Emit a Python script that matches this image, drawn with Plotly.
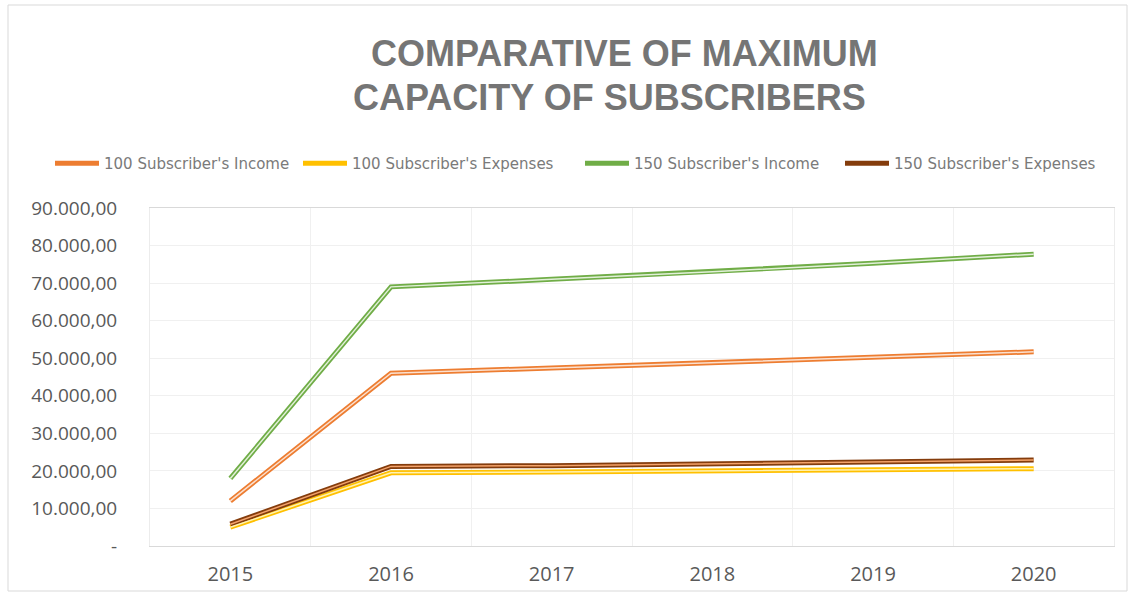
import plotly.graph_objects as go

years = ["2015", "2016", "2017", "2018", "2019", "2020"]
income_100 = [12000, 46000, 47400, 48800, 50200, 51700]
expenses_100 = [5000, 19500, 19700, 20000, 20300, 20600]
income_150 = [18000, 69000, 71000, 73000, 75300, 77700]
expenses_150 = [5800, 21200, 21400, 21900, 22400, 22900]

series_names = ["100 Subscriber's Income", "100 Subscriber's Expenses",
                "150 Subscriber's Income", "150 Subscriber's Expenses"]
y_tickvals = [0, 10000, 20000, 30000, 40000, 50000, 60000, 70000, 80000, 90000]
y_ticktext = ["-", "10.000,00", "20.000,00", "30.000,00", "40.000,00",
              "50.000,00", "60.000,00", "70.000,00", "80.000,00", "90.000,00"]

outer_colors = ["#ed7d31", "#ffc000", "#70ad47", "#843c0c"]
inner_colors = ["#fbe0cf", "#fff2b3", "#e2f0d9", "#f4a36b"]

W, H = 1134, 597
ML, MR, MT, MB = 150, 20, 208, 51
legend_ids = ["legend", "legend2", "legend3", "legend4"]
legend_left_px = [50, 298, 580, 840]

fig = go.Figure()
data = [income_100, expenses_100, income_150, expenses_150]
for name, vals, oc, lg in zip(series_names, data, outer_colors, legend_ids):
    fig.add_trace(go.Scatter(x=years, y=vals, mode="lines", name=name,
                             line=dict(color=oc, width=5), legendgroup=name, legend=lg))
for name, vals, ic in zip(series_names, data, inner_colors):
    fig.add_trace(go.Scatter(x=years, y=vals, mode="lines", name=name,
                             line=dict(color=ic, width=1.5), legendgroup=name,
                             showlegend=False, hoverinfo="skip"))

pw = W - ML - MR
ph = H - MT - MB
def px(x):
    return (x - ML) / pw
def py(y):
    return (H - MB - y) / ph

legend_common = dict(orientation="h", xref="container", yref="container",
                     y=1 - 147 / H, xanchor="left", yanchor="top",
                     font=dict(size=15, color="#7a7a7a", family="DejaVu Sans"),
                     bgcolor="rgba(0,0,0,0)", itemwidth=44)
legends = {lg: dict(legend_common, x=lx / W) for lg, lx in zip(legend_ids, legend_left_px)}

fig.update_layout(
    width=W, height=H,
    margin=dict(l=ML, r=MR, t=MT, b=MB, autoexpand=False),
    paper_bgcolor="white", plot_bgcolor="white",
    font=dict(family="Liberation Sans, Arial", color="#595959"),
    showlegend=True,
    **legends,
    xaxis=dict(type="category", range=[-0.5, 5.5], tickson="boundaries",
               showgrid=True, gridcolor="#f0f0f0", ticks="",
               showline=True, linecolor="#d9d9d9", mirror=True,
               tickfont=dict(size=20, color="#595959", family="Open Sans, Liberation Sans"),
               ticklabelstandoff=10, zeroline=False),
    yaxis=dict(range=[0, 90000], tickvals=y_tickvals, ticktext=y_ticktext,
               showgrid=True, gridcolor="#f0f0f0", zeroline=False,
               showline=True, linecolor="#ececec", mirror=True,
               tickfont=dict(size=19, color="#595959", family="Open Sans, Liberation Sans"),
               ticklabelstandoff=28),
    annotations=[
        dict(text="<b>COMPARATIVE OF MAXIMUM</b>", xref="paper", yref="paper",
             x=px(624), y=py(53), xanchor="center", yanchor="middle", showarrow=False,
             font=dict(size=36, color="#757575", family="Liberation Sans, Arial")),
        dict(text="<b>CAPACITY OF SUBSCRIBERS</b>", xref="paper", yref="paper",
             x=px(351), y=py(97), xanchor="left", yanchor="middle", showarrow=False,
             font=dict(size=36, color="#757575", family="Liberation Sans, Arial")),
    ],
    shapes=[
        dict(type="rect", xref="paper", yref="paper",
             x0=px(8), x1=px(1127), y0=py(591), y1=py(5),
             line=dict(color="#d9d9d9", width=1), fillcolor="rgba(0,0,0,0)", layer="below"),
    ],
)

fig.write_html("out.html")
